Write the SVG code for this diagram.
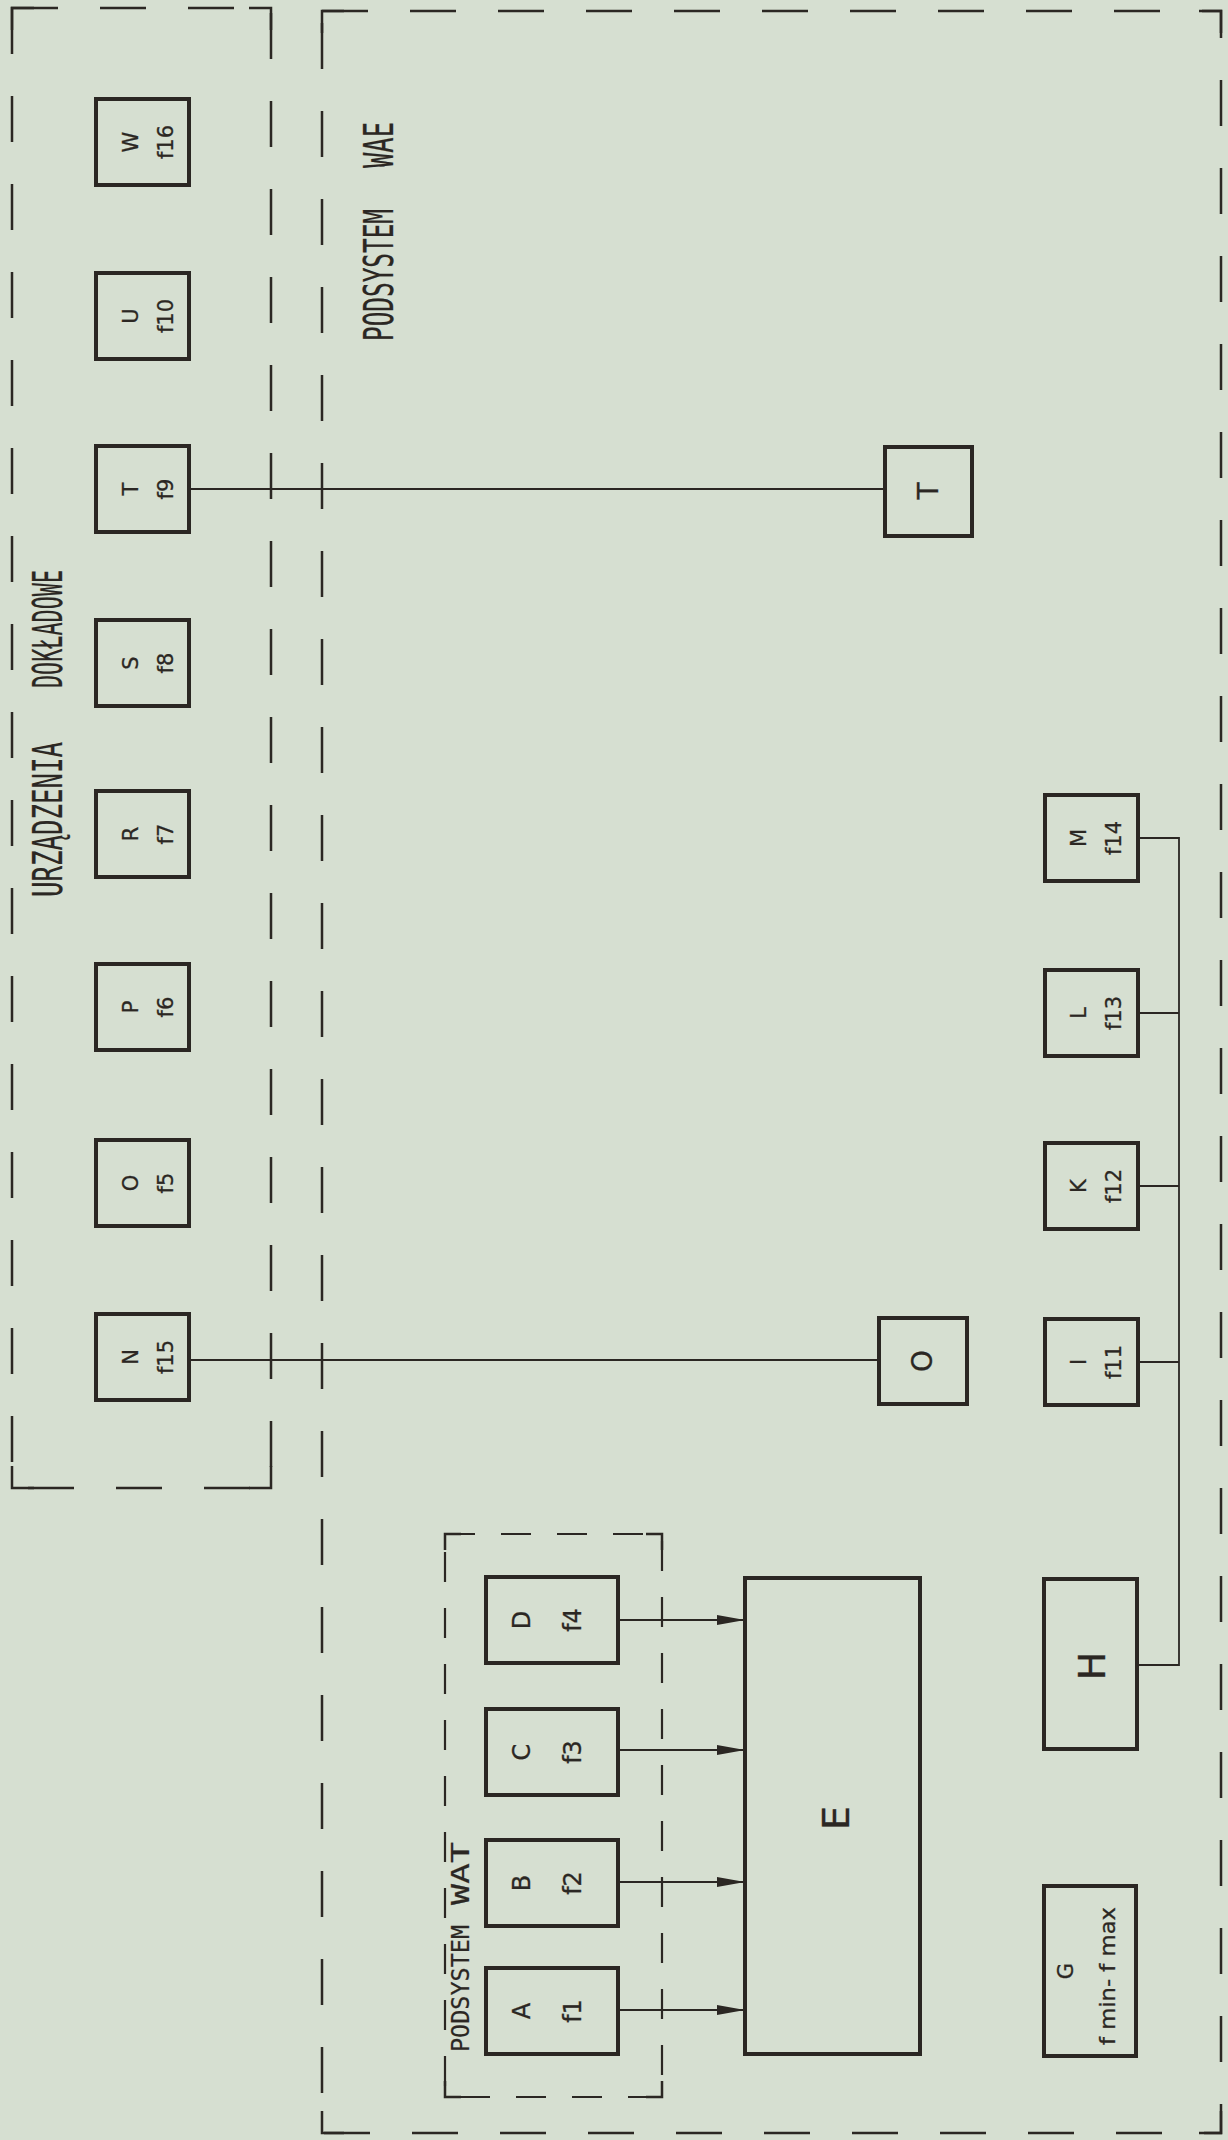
<svg xmlns="http://www.w3.org/2000/svg" width="1228" height="2140" viewBox="0 0 1228 2140">
<defs>
<style>
.bg{fill:#d6dfd1}
.box{fill:none;stroke:#2b2723;stroke-width:4}
.dash{fill:none;stroke:#2b2723;stroke-width:2.5;stroke-dasharray:46 42}
.dashs{fill:none;stroke:#2b2723;stroke-width:2.2;stroke-dasharray:30 26}
.corner{fill:none;stroke:#2b2723;stroke-width:2.5}
.wire{fill:none;stroke:#2b2723;stroke-width:1.8}
text{font-family:"DejaVu Sans","Liberation Sans",sans-serif;fill:#2b2723;stroke:#2b2723;stroke-width:0.3}
.lbl{font-size:21px;text-anchor:middle}
.lblw{font-size:24px;text-anchor:middle}
.one{font-size:28px;text-anchor:middle}
.huge{font-size:38px;text-anchor:middle}
.big{font-family:"DejaVu Sans Mono","Liberation Mono",monospace;font-size:40px;stroke-width:0.2}
.mid{font-family:"DejaVu Sans Mono","Liberation Mono",monospace;font-size:25px;stroke-width:0.2}
</style>
<marker id="arr" markerUnits="userSpaceOnUse" markerWidth="28" markerHeight="10" refX="28" refY="5" orient="auto">
<path d="M0,0 L28,5 L0,10 Z" fill="#2b2723"/>
</marker>
</defs>
<rect class="bg" x="0" y="0" width="1228" height="2140"/>

<g id="frames">
<rect class="dash" x="12" y="8" width="259" height="1480"/>
<rect class="dash" x="322" y="11" width="899" height="2122"/>
<rect class="dashs" x="445" y="1534" width="217" height="563"/>
<path class="corner" d="M12,30 V8 H34 M249,8 H271 V30 M12,1466 V1488 H34 M249,1488 H271 V1466"/>
<path class="corner" d="M322,33 V11 H344 M1199,11 H1221 V33 M322,2111 V2133 H344 M1199,2133 H1221 V2111"/>
<path class="corner" d="M445,1550 V1534 H461 M646,1534 H662 V1550 M445,2081 V2097 H461 M646,2097 H662 V2081"/>
</g>

<g id="titles">
<text class="big" transform="translate(62,897) rotate(-90)" textLength="155" lengthAdjust="spacingAndGlyphs">URZĄDZENIA</text>
<text class="big" transform="translate(62,688) rotate(-90)" textLength="118" lengthAdjust="spacingAndGlyphs">DOKŁADOWE</text>
<text class="big" transform="translate(393,341) rotate(-90)" textLength="132" lengthAdjust="spacingAndGlyphs">PODSYSTEM</text>
<text class="big" transform="translate(393,168) rotate(-90)" textLength="46" lengthAdjust="spacingAndGlyphs">WAE</text>
<text class="mid" transform="translate(469,2052) rotate(-90)" textLength="127" lengthAdjust="spacingAndGlyphs">PODSYSTEM</text>
<text class="mid" transform="translate(469,1905) rotate(-90)" textLength="63" lengthAdjust="spacingAndGlyphs">WAT</text>
</g>

<g id="connectors">
<line class="wire" x1="189" y1="489" x2="885" y2="489"/>
<line class="wire" x1="189" y1="1360" x2="879" y2="1360"/>
<polyline class="wire" points="1138,838 1179,838 1179,1665 1137,1665"/>
<line class="wire" x1="1138" y1="1013" x2="1179" y2="1013"/>
<line class="wire" x1="1138" y1="1186" x2="1179" y2="1186"/>
<line class="wire" x1="1138" y1="1362" x2="1179" y2="1362"/>
<line class="wire" x1="618" y1="1620" x2="745" y2="1620" marker-end="url(#arr)"/>
<line class="wire" x1="618" y1="1750" x2="745" y2="1750" marker-end="url(#arr)"/>
<line class="wire" x1="618" y1="1882" x2="745" y2="1882" marker-end="url(#arr)"/>
<line class="wire" x1="618" y1="2010" x2="745" y2="2010" marker-end="url(#arr)"/>
</g>

<g id="node-W"><rect class="box" x="96" y="99" width="93" height="86"/>
<text class="lbl" transform="translate(138,142) rotate(-90)">W</text>
<text class="lbl" transform="translate(173,142) rotate(-90)">f16</text></g>
<g id="node-U"><rect class="box" x="96" y="273" width="93" height="86"/>
<text class="lbl" transform="translate(138,316) rotate(-90)">U</text>
<text class="lbl" transform="translate(173,316) rotate(-90)">f10</text></g>
<g id="node-T"><rect class="box" x="96" y="446" width="93" height="86"/>
<text class="lbl" transform="translate(138,489) rotate(-90)">T</text>
<text class="lbl" transform="translate(173,489) rotate(-90)">f9</text></g>
<g id="node-S"><rect class="box" x="96" y="620" width="93" height="86"/>
<text class="lbl" transform="translate(138,663) rotate(-90)">S</text>
<text class="lbl" transform="translate(173,663) rotate(-90)">f8</text></g>
<g id="node-R"><rect class="box" x="96" y="791" width="93" height="86"/>
<text class="lbl" transform="translate(138,834) rotate(-90)">R</text>
<text class="lbl" transform="translate(173,834) rotate(-90)">f7</text></g>
<g id="node-P"><rect class="box" x="96" y="964" width="93" height="86"/>
<text class="lbl" transform="translate(138,1007) rotate(-90)">P</text>
<text class="lbl" transform="translate(173,1007) rotate(-90)">f6</text></g>
<g id="node-O"><rect class="box" x="96" y="1140" width="93" height="86"/>
<text class="lbl" transform="translate(138,1183) rotate(-90)">O</text>
<text class="lbl" transform="translate(173,1183) rotate(-90)">f5</text></g>
<g id="node-N"><rect class="box" x="96" y="1314" width="93" height="86"/>
<text class="lbl" transform="translate(138,1357) rotate(-90)">N</text>
<text class="lbl" transform="translate(173,1357) rotate(-90)">f15</text></g>

<g id="node-T2"><rect class="box" x="885" y="447" width="87" height="89"/>
<text class="one" transform="translate(938,491) rotate(-90)">T</text></g>
<g id="node-O2"><rect class="box" x="879" y="1318" width="88" height="86"/>
<text class="one" transform="translate(932,1361) rotate(-90)">O</text></g>

<g id="node-M"><rect class="box" x="1045" y="795" width="93" height="86"/>
<text class="lbl" transform="translate(1086,838) rotate(-90)">M</text>
<text class="lbl" transform="translate(1121,838) rotate(-90)">f14</text></g>
<g id="node-L"><rect class="box" x="1045" y="970" width="93" height="86"/>
<text class="lbl" transform="translate(1086,1013) rotate(-90)">L</text>
<text class="lbl" transform="translate(1121,1013) rotate(-90)">f13</text></g>
<g id="node-K"><rect class="box" x="1045" y="1143" width="93" height="86"/>
<text class="lbl" transform="translate(1086,1186) rotate(-90)">K</text>
<text class="lbl" transform="translate(1121,1186) rotate(-90)">f12</text></g>
<g id="node-I"><rect class="box" x="1045" y="1319" width="93" height="86"/>
<text class="lbl" transform="translate(1086,1362) rotate(-90)">I</text>
<text class="lbl" transform="translate(1121,1362) rotate(-90)">f11</text></g>

<g id="node-H"><rect class="box" x="1044" y="1579" width="93" height="170"/>
<text class="huge" transform="translate(1105,1666) rotate(-90)">H</text></g>
<g id="node-G"><rect class="box" x="1044" y="1886" width="92" height="170"/>
<text class="lbl" transform="translate(1073,1971) rotate(-90)">G</text>
<text class="lbl" transform="translate(1115,1976) rotate(-90)" textLength="138" lengthAdjust="spacingAndGlyphs">f min- f max</text></g>

<g id="node-E"><rect class="box" x="745" y="1578" width="175" height="476"/>
<text class="huge" transform="translate(849,1818) rotate(-90)">E</text></g>

<g id="node-D"><rect class="box" x="486" y="1577" width="132" height="86"/>
<text class="lblw" transform="translate(530,1620) rotate(-90)">D</text>
<text class="lblw" transform="translate(581,1620) rotate(-90)">f4</text></g>
<g id="node-C"><rect class="box" x="486" y="1709" width="132" height="86"/>
<text class="lblw" transform="translate(530,1752) rotate(-90)">C</text>
<text class="lblw" transform="translate(581,1752) rotate(-90)">f3</text></g>
<g id="node-B"><rect class="box" x="486" y="1840" width="132" height="86"/>
<text class="lblw" transform="translate(530,1883) rotate(-90)">B</text>
<text class="lblw" transform="translate(581,1883) rotate(-90)">f2</text></g>
<g id="node-A"><rect class="box" x="486" y="1968" width="132" height="86"/>
<text class="lblw" transform="translate(530,2011) rotate(-90)">A</text>
<text class="lblw" transform="translate(581,2011) rotate(-90)">f1</text></g>
</svg>
